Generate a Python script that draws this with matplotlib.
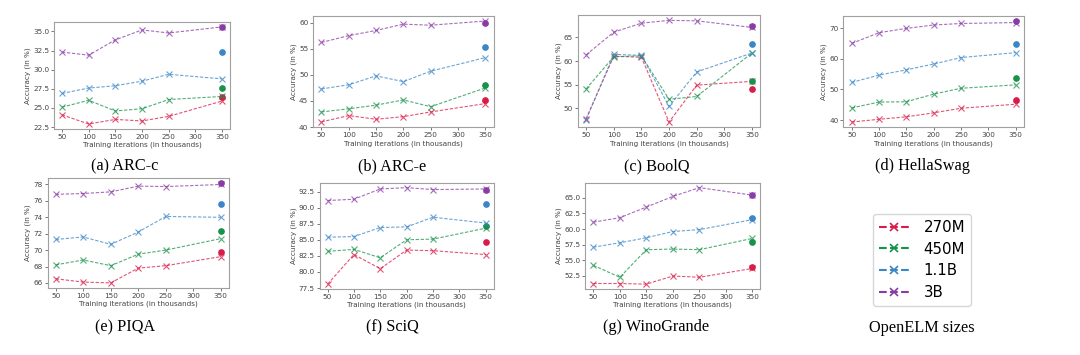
import numpy as np
import matplotlib
matplotlib.use("Agg")
import matplotlib.pyplot as plt
from matplotlib.lines import Line2D

# Training checkpoints (thousands of iterations)
ckpt = [50, 100, 150, 200, 250, 350]
sizes = ["270M", "450M", "1.1B", "3B"]
colors = ["#d81b47", "#17924a", "#3a86c6", "#8a3ca6"]

# per-task accuracy along training, one list per model size
arc_c = [[24.1, 22.9, 23.5, 23.3, 23.9, 25.9],
         [25.1, 26.0, 24.6, 24.9, 26.1, 26.5],
         [26.9, 27.6, 27.9, 28.5, 29.4, 28.8],
         [32.3, 31.9, 33.9, 35.2, 34.8, 35.6]]
arc_c_final = [26.4, 27.6, 32.3, 35.6]

arc_e = [[41.0, 42.2, 41.5, 42.0, 42.9, 44.5],
         [42.9, 43.5, 44.2, 45.2, 43.9, 47.5],
         [47.3, 48.1, 49.8, 48.7, 50.7, 53.3],
         [56.2, 57.5, 58.5, 59.7, 59.5, 60.3]]
arc_e_final = [45.1, 48.1, 55.4, 59.9]

boolq = [[47.8, 61.0, 60.8, 47.1, 54.9, 55.7],
         [54.1, 60.9, 61.1, 51.9, 52.5, 61.7],
         [47.6, 61.4, 61.2, 50.4, 57.7, 61.7],
         [61.3, 66.1, 68.0, 68.6, 68.5, 67.1]]
boolq_final = [54.0, 55.8, 63.6, 67.4]

hellaswag = [[39.4, 40.3, 41.1, 42.4, 43.9, 45.2],
             [44.0, 45.9, 46.0, 48.5, 50.4, 51.5],
             [52.3, 54.7, 56.4, 58.3, 60.4, 62.0],
             [65.0, 68.5, 69.9, 71.0, 71.5, 71.8]]
hellaswag_final = [46.7, 53.9, 64.7, 72.3]

piqa = [[66.5, 66.1, 66.0, 67.8, 68.1, 69.2],
        [68.2, 68.8, 68.1, 69.5, 70.0, 71.4],
        [71.3, 71.6, 70.7, 72.2, 74.1, 74.0],
        [76.8, 76.9, 77.1, 77.8, 77.75, 78.0]]
piqa_final = [69.75, 72.3, 75.6, 78.2]

sciq = [[78.1, 82.7, 80.5, 83.4, 83.3, 82.7],
        [83.2, 83.5, 82.2, 85.0, 85.1, 86.8],
        [85.4, 85.5, 86.9, 87.0, 88.5, 87.6],
        [91.1, 91.3, 92.9, 93.1, 92.8, 92.9]]
sciq_final = [84.7, 87.2, 90.6, 92.7]

winogrande = [[51.3, 51.3, 51.2, 52.5, 52.3, 53.7],
              [54.2, 52.3, 56.7, 56.8, 56.7, 58.5],
              [57.1, 57.8, 58.6, 59.6, 59.9, 61.5],
              [61.1, 61.8, 63.5, 65.2, 66.6, 65.4]]
winogrande_final = [53.9, 58.0, 61.7, 65.4]

panels = [
    ("(a) ARC-c", arc_c, arc_c_final, [0.050, 0.637, 0.163, 0.301], (125, 166), np.arange(22.5, 35.1, 2.5), "%.1f"),
    ("(b) ARC-e", arc_e, arc_e_final, [0.290, 0.642, 0.167, 0.313], (392, 166), np.arange(40, 61, 5), "%d"),
    ("(c) BoolQ", boolq, boolq_final, [0.535, 0.642, 0.169, 0.315], (657, 166), np.arange(50, 66, 5), "%d"),
    ("(d) HellaSwag", hellaswag, hellaswag_final, [0.781, 0.642, 0.167, 0.313], (922, 166), np.arange(40, 71, 10), "%d"),
    ("(e) PIQA", piqa, piqa_final, [0.044, 0.189, 0.168, 0.310], (125, 327), np.arange(66, 79, 2), "%d"),
    ("(f) SciQ", sciq, sciq_final, [0.296, 0.186, 0.161, 0.299], (392, 327), np.arange(77.5, 92.6, 2.5), "%.1f"),
    ("(g) WinoGrande", winogrande, winogrande_final, [0.542, 0.186, 0.162, 0.299], (656, 327), np.arange(52.5, 65.1, 2.5), "%.1f"),
]

W, H = 1080, 355
fig = plt.figure(figsize=(W / 100, H / 100), dpi=100)

for title, series, final, pos, cap, yt, fmt in panels:
    ax = fig.add_axes(pos)
    for vals, fv, c in zip(series, final, colors):
        ax.plot(ckpt, vals, linestyle=(0, (3, 1.5)), color=c, lw=0.8, alpha=0.75,
                marker="x", ms=4, mew=0.8)
        ax.plot([350], [fv], marker="o", color=c, ms=3.8, linestyle="none")
    ax.set_xticks([50, 100, 150, 200, 250, 300, 350])
    ax.set_yticks(yt)
    ax.yaxis.set_major_formatter(matplotlib.ticker.FormatStrFormatter(fmt))
    ax.tick_params(labelsize=5.2, length=2, width=0.5, pad=1.5,
                   colors="#444444")
    ax.set_xlabel("Training iterations (in thousands)", fontsize=5.2,
                  color="#444444", labelpad=1.5)
    ax.set_ylabel("Accuracy (in %)", fontsize=5.2, color="#444444", labelpad=1.5)
    for s in ax.spines.values():
        s.set_color("#a0a0a0")
        s.set_linewidth(0.8)
    fig.text(cap[0] / W, 1 - cap[1] / H, title, ha="center", va="center",
             fontsize=11.7, family="Liberation Serif")

handles = [Line2D([0], [0], color=c, linestyle="--", lw=1.5, marker="x",
                  ms=6, mew=1.2) for c in colors]
leg = fig.legend(handles, sizes, loc="center", bbox_to_anchor=(922 / W, 1 - 260 / H),
                 fontsize=10.8, frameon=True, handlelength=2.0, handletextpad=1.0,
                 labelspacing=0.45, borderpad=0.4)
leg.get_frame().set_edgecolor("#cccccc")
fig.text(922 / W, 1 - 328 / H, "OpenELM sizes", ha="center", va="center",
         fontsize=11.7, family="Liberation Serif")

fig.savefig("out.png", dpi=100)
